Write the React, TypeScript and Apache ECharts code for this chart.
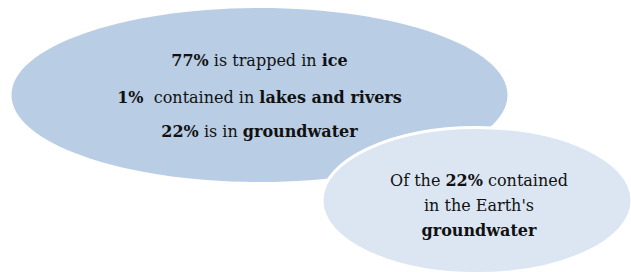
import React, { useEffect, useRef } from "react";
import * as echarts from "echarts";

// Text content (rich-text markup: {b|...} is bold)
const bigEllipseLines: string[] = [
  "{b|77%} is trapped in {b|ice}",
  "{b|1%}  contained in {b|lakes and rivers}",
  "{b|22%} is in {b|groundwater}",
];
const smallEllipseLines: string[] = [
  "Of the {b|22%} contained",
  "in the Earth's",
  "{b|groundwater}",
];

const FONT = "'DejaVu Serif', 'Liberation Serif', serif";

export default function App() {
  const ref = useRef<HTMLDivElement>(null);
  useEffect(() => {
    if (!ref.current) return;
    const chart = echarts.init(ref.current, undefined, { renderer: "svg" });
    const rich = {
      b: { fontWeight: "bold", fontFamily: FONT, fontSize: 16, fill: "#111" },
    };
    const big = { cx: 259.5, cy: 95, rx: 248, ry: 87 };
    const small = { cx: 477, cy: 200.5, rx: 155, ry: 73 };
    const bigY = [60, 97, 131];
    const smallY = [180, 205, 230];
    const mkText = (t: string, x: number, y: number) => ({
      type: "text",
      x,
      y,
      z: 10,
      style: {
        text: t,
        fontFamily: FONT,
        fontSize: 16,
        fill: "#111",
        align: "center",
        verticalAlign: "middle",
        rich,
      },
    });
    const elements: any[] = [
      {
        type: "ellipse",
        shape: big,
        z: 1,
        style: { fill: "#b9cde5" },
      },
      {
        type: "ellipse",
        shape: small,
        z: 2,
        style: { fill: "#dce6f2", stroke: "#ffffff", lineWidth: 3 },
      },
      ...bigEllipseLines.map((t, i) => mkText(t, big.cx, bigY[i])),
      ...smallEllipseLines.map((t, i) => mkText(t, 479, smallY[i])),
    ];
    chart.setOption({
      animation: false,
      backgroundColor: "#ffffff",
      graphic: { elements },
    });
    return () => chart.dispose();
  }, []);
  return (
    <div
      ref={ref}
      style={{ position: "fixed", left: 0, top: 0, width: 631, height: 275 }}
    />
  );
}
